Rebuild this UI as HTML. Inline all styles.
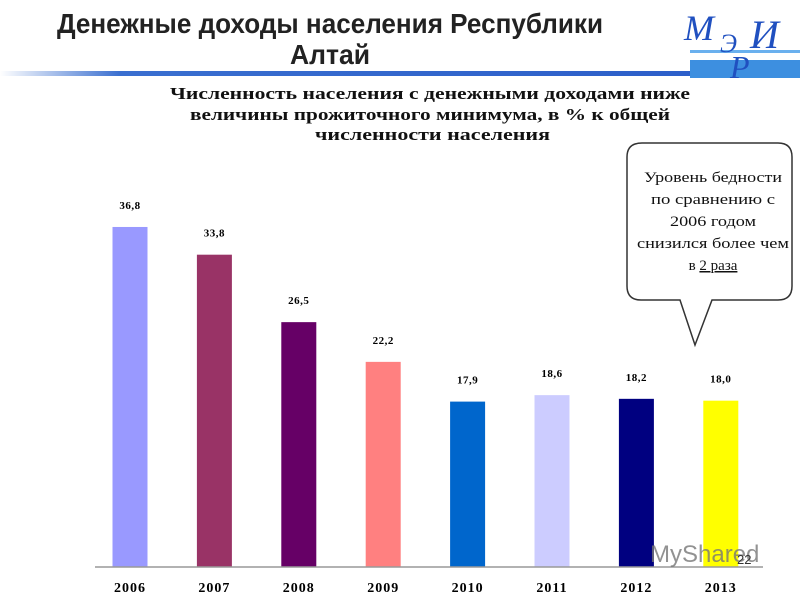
<!DOCTYPE html>
<html><head><meta charset="utf-8"><style>
body{margin:0;width:800px;height:600px;background:#fff;overflow:hidden;font-family:"Liberation Serif",serif}
</style></head><body>
<svg width="800" height="600" xmlns="http://www.w3.org/2000/svg">
<defs><linearGradient id="g" x1="0" x2="1"><stop offset="0" stop-color="#fff"/><stop offset="0.15" stop-color="#3a6fd0"/><stop offset="1" stop-color="#2a5cc8"/></linearGradient></defs>
<text x="57" y="33" textLength="546" lengthAdjust="spacingAndGlyphs" font-family="Liberation Sans, sans-serif" font-weight="bold" font-size="28" fill="#222">Денежные доходы населения Республики</text>
<text x="290" y="64" textLength="80" lengthAdjust="spacingAndGlyphs" font-family="Liberation Sans, sans-serif" font-weight="bold" font-size="28" fill="#222">Алтай</text>
<rect x="0" y="71" width="800" height="5" fill="url(#g)"/>
<rect x="690" y="60" width="110" height="18" fill="#3d8fe0"/>
<rect x="690" y="50" width="110" height="3" fill="#6ab0ee"/>
<g font-family="Liberation Serif,serif" font-style="italic" fill="#2050c0">
<text x="684" y="40" font-size="36">М</text><text x="720" y="52" font-size="26">Э</text><text x="750" y="48" font-size="40">И</text><text x="730" y="78" font-size="32">Р</text></g>
<g font-weight="bold" font-size="17" fill="#111">
<text x="170" y="99" textLength="520" lengthAdjust="spacingAndGlyphs">Численность населения с денежными доходами ниже</text>
<text x="190" y="120" textLength="480" lengthAdjust="spacingAndGlyphs">величины прожиточного минимума, в % к общей</text>
<text x="315" y="140" textLength="235" lengthAdjust="spacingAndGlyphs">численности населения</text></g>
<g id="bars"></g>
<line x1="95" y1="567" x2="763" y2="567" stroke="#999" stroke-width="1.5"/>
<g>
<path d="M642,143 H778 Q792,143 792,157 V286 Q792,300 778,300 H712 L695,345 L680,300 H641 Q627,300 627,286 V157 Q627,143 642,143 Z" fill="#fff" stroke="#333" stroke-width="1.5"/>
<g font-family="Liberation Serif, serif" font-size="15" text-anchor="middle" fill="#111">
<text x="713" y="182" textLength="138" lengthAdjust="spacingAndGlyphs">Уровень бедности</text><text x="713" y="204" textLength="124" lengthAdjust="spacingAndGlyphs">по сравнению с</text><text x="713" y="226" textLength="86" lengthAdjust="spacingAndGlyphs">2006 годом</text><text x="713" y="248" textLength="152" lengthAdjust="spacingAndGlyphs">снизился более чем</text><text x="713" y="270">в <tspan text-decoration="underline">2 раза</tspan></text></g></g>
<text x="650" y="562" font-family="Liberation Sans,sans-serif" font-size="24" fill="#777" opacity="0.8">MyShared</text>
<text x="737" y="564" font-family="Liberation Sans,sans-serif" font-size="13" fill="#333">22</text>
</svg>
<script>
const categories=["2006","2007","2008","2009","2010","2011","2012","2013"];
const values=[36.8,33.8,26.5,22.2,17.9,18.6,18.2,18.0];
const labels=["36,8","33,8","26,5","22,2","17,9","18,6","18,2","18,0"];
const colors=["#9999ff","#993366","#660066","#ff8080","#0066cc","#ccccff","#000080","#ffff00"];
const NS="http://www.w3.org/2000/svg";
const g=document.getElementById('bars');
const y=v=>567-v*9.24, x=i=>130+i*84.4;
categories.forEach((c,i)=>{
 const r=document.createElementNS(NS,'rect');
 
 
 r.setAttribute('x',x(i)-17.5);r.setAttribute('y',y(values[i]));r.setAttribute('width',35);r.setAttribute('height',567-y(values[i]));r.setAttribute('fill',colors[i]);g.appendChild(r);
 const t=document.createElementNS(NS,'text');
 
 
 t.setAttribute('x',x(i));t.setAttribute('y',y(values[i])-18);t.setAttribute('text-anchor','middle');t.setAttribute('font-weight','bold');t.setAttribute('font-size','11');t.setAttribute('letter-spacing','0.5');t.textContent=labels[i];g.appendChild(t);
 const l=document.createElementNS(NS,'text');
 
 
 l.setAttribute('x',x(i));l.setAttribute('y',592);l.setAttribute('text-anchor','middle');l.setAttribute('font-weight','bold');l.setAttribute('font-size','14');l.setAttribute('letter-spacing','1');l.textContent=c;g.appendChild(l);
});
</script>
</body></html>
